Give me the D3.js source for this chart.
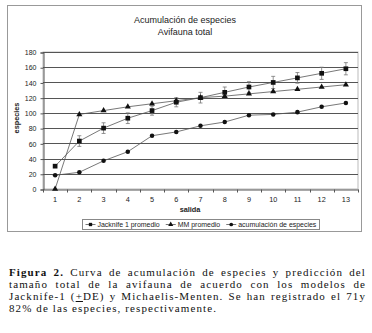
<!DOCTYPE html>
<html>
<head>
<meta charset="utf-8">
<script src="https://cdn.jsdelivr.net/npm/d3@7"></script>
<style>
  body { margin: 0; background: #fff; width: 372px; height: 333px; overflow: hidden; position: relative; }
  #chart { position: absolute; left: 0; top: 0; }
  #caption {
    position: absolute; left: 9px; top: 267px; width: 357px;
    font-family: "Liberation Serif", "Times New Roman", serif;
    font-size: 11px; line-height: 11.9px; color: #111; letter-spacing: 1.1px;
  }
  #caption div { text-align: justify; text-align-last: justify; white-space: nowrap; height: 11.9px; }
  #caption div.last { text-align-last: left; }
</style>
</head>
<body>
<svg id="chart" width="372" height="260"></svg>
<div id="caption"></div>
<script>
// ---- data ----
var salidas = [1,2,3,4,5,6,7,8,9,10,11,12,13]
var jackknife = [30,63,80,93,103,114,120,127,134,140,146,152,158]
var jackknifeDE = [0,7,7,7,6,6,7,7,7,8,7,8,8]
var mm = [0,98,103,108,112,116,120,122,125,128,131,134,137]
var acumulacion = [18,22,37,49,70,75,83,88,97,98,101,108,113]
var yTicks = [0,20,40,60,80,100,120,140,160,180]
var seriesNames = ["Jacknife 1 promedio", "MM promedio", "acumulación de especies"]
var captionLines = [
  "<b>Figura 2.</b> Curva de acumulación de especies y predicción del",
  "tamaño total de la avifauna de acuerdo con los modelos de",
  "Jacknife-1 (<u>+</u>DE) y Michaelis-Menten. Se han registrado el 71y",
  "82% de las especies, respectivamente."
]

var svg = d3.select("#chart")
var font = "Arial, 'Liberation Sans', sans-serif"

// outer frame
svg.append("rect").attr("x", 7.5).attr("y", 5.5).attr("width", 354).attr("height", 226)
  .attr("fill", "#fff").attr("stroke", "#999").attr("stroke-width", 1)

var plot = {left: 43, right: 358, top: 52, bottom: 189}

var x = d3.scaleBand().domain(salidas).range([plot.left, plot.right])
var y = d3.scaleLinear().domain([0, 180]).range([plot.bottom, plot.top])

// plot area border
svg.append("rect").attr("x", plot.left).attr("y", plot.top)
  .attr("width", plot.right - plot.left).attr("height", plot.bottom - plot.top)
  .attr("fill", "#fff").attr("stroke", "#bbb").attr("stroke-width", 1)

// gridlines
svg.append("g").selectAll("line").data(yTicks.slice(1)).enter().append("line")
  .attr("x1", plot.left).attr("x2", plot.right)
  .attr("y1", d => Math.round(y(d)) + 0.5).attr("y2", d => Math.round(y(d)) + 0.5)
  .attr("stroke", "#555").attr("stroke-width", 1)

// axes
var yAxis = d3.axisLeft(y).tickValues(yTicks).tickSize(3).tickPadding(4)
var gy = svg.append("g").attr("transform", "translate(" + (plot.left + 0.5) + ",0.5)").call(yAxis)
gy.selectAll("text").attr("font-family", font).attr("font-size", 7).attr("fill", "#222")
gy.selectAll("line, path").attr("stroke", "#555")

var xAxis = d3.axisBottom(x).tickSize(0).tickPadding(7)
var gx = svg.append("g").attr("transform", "translate(0," + (plot.bottom + 0.5) + ")").call(xAxis)
gx.selectAll("text").attr("font-family", font).attr("font-size", 7.3).attr("fill", "#222")
gx.select("path").attr("stroke", "#555")
// tick marks between categories
gx.append("g").selectAll("line").data(salidas.concat([14])).enter().append("line")
  .attr("x1", d => Math.round(x(d) === undefined ? plot.right : x(d)) + 0.5)
  .attr("x2", d => Math.round(x(d) === undefined ? plot.right : x(d)) + 0.5)
  .attr("y1", 0).attr("y2", 3).attr("stroke", "#555")

// titles
svg.append("text").attr("x", 185).attr("y", 23).attr("text-anchor", "middle")
  .attr("font-family", font).attr("font-size", 9).attr("fill", "#222").text("Acumulación de especies")
svg.append("text").attr("x", 185).attr("y", 34.5).attr("text-anchor", "middle")
  .attr("font-family", font).attr("font-size", 9).attr("fill", "#222").text("Avifauna total")
svg.append("text").attr("x", 190).attr("y", 212).attr("text-anchor", "middle")
  .attr("font-family", font).attr("font-size", 7.3).attr("font-weight", "bold").attr("fill", "#222").text("salida")
svg.append("text").attr("transform", "translate(19,118) rotate(-90)").attr("text-anchor", "middle")
  .attr("font-family", font).attr("font-size", 7.3).attr("font-weight", "bold").attr("fill", "#222").text("especies")

var cx = d => x(d) + x.bandwidth() / 2
var line = d3.line().x((d, i) => cx(salidas[i])).y(d => y(d))

function drawSeries(values, shape) {
  svg.append("path").datum(values).attr("d", line)
    .attr("fill", "none").attr("stroke", "#555").attr("stroke-width", 0.8)
  var sym = d3.symbol().type(shape).size(shape === d3.symbolSquare ? 22 : 16)
  svg.append("g").selectAll("path").data(values).enter().append("path")
    .attr("d", sym)
    .attr("transform", (d, i) => "translate(" + cx(salidas[i]) + "," + y(d) + ")")
    .attr("fill", "#111")
}

// error bars for jackknife
var eb = svg.append("g").attr("stroke", "#777").attr("stroke-width", 0.8)
jackknife.forEach(function(v, i) {
  if (!jackknifeDE[i]) return
  var xx = cx(salidas[i])
  eb.append("line").attr("x1", xx).attr("x2", xx).attr("y1", y(v - jackknifeDE[i])).attr("y2", y(v + jackknifeDE[i]))
  eb.append("line").attr("x1", xx - 2).attr("x2", xx + 2).attr("y1", y(v - jackknifeDE[i])).attr("y2", y(v - jackknifeDE[i]))
  eb.append("line").attr("x1", xx - 2).attr("x2", xx + 2).attr("y1", y(v + jackknifeDE[i])).attr("y2", y(v + jackknifeDE[i]))
})

drawSeries(acumulacion, d3.symbolCircle)
drawSeries(mm, d3.symbolTriangle)
drawSeries(jackknife, d3.symbolSquare)

// legend: fit labels into the box
var lg = svg.append("g")
var box = {x: 82.5, w: 237}
lg.append("rect").attr("x", box.x).attr("y", 219.5).attr("width", box.w).attr("height", 10)
  .attr("fill", "#fff").attr("stroke", "#888")
var legendShapes = [d3.symbolSquare, d3.symbolTriangle, d3.symbolCircle]
var items = seriesNames.map(function(name, i) {
  var g = lg.append("g")
  g.append("line").attr("x1", 0).attr("x2", 10).attr("stroke", "#555").attr("stroke-width", 0.8)
  g.append("path").attr("d", d3.symbol().type(legendShapes[i]).size(11)).attr("transform", "translate(5,0)").attr("fill", "#111")
  var t = g.append("text").attr("x", 12).attr("y", 2.4).attr("font-family", font).attr("font-size", 7.3).attr("fill", "#222").text(name)
  return {g: g, t: t}
})
var textTotal = d3.sum(items, d => d.t.node().getComputedTextLength())
var room = box.w - 6 - 3 * 12 - 2 * 6
var fs = Math.min(7.3, 7.3 * room / textTotal)
var lx = box.x + 3
items.forEach(function(it) {
  it.t.attr("font-size", fs)
  it.g.attr("transform", "translate(" + lx + ",224.5)")
  lx += 12 + it.t.node().getComputedTextLength() + 6
})

// caption
d3.select("#caption").selectAll("div").data(captionLines).enter().append("div")
  .attr("class", (d, i) => i === captionLines.length - 1 ? "last" : null)
  .html(d => d)
</script>
</body>
</html>
